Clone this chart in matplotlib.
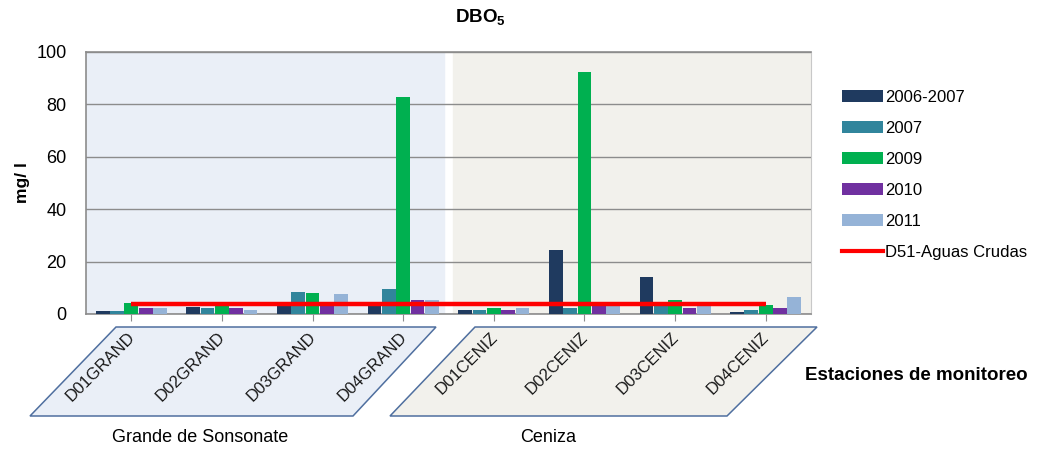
import matplotlib
matplotlib.use("Agg")
import matplotlib.pyplot as plt
import numpy as np
from matplotlib.patches import Polygon, Patch
from matplotlib.lines import Line2D

plt.rcParams['font.family'] = ['Liberation Sans', 'DejaVu Sans']
plt.rcParams['mathtext.fontset'] = 'custom'
plt.rcParams['mathtext.rm'] = 'Liberation Sans'
plt.rcParams['mathtext.bf'] = 'Liberation Sans:bold'

# estaciones y series
stations = ["D01GRAND", "D02GRAND", "D03GRAND", "D04GRAND",
            "D01CENIZ", "D02CENIZ", "D03CENIZ", "D04CENIZ"]
rivers = ["Grande de Sonsonate", "Ceniza"]
series = ["2006-2007", "2007", "2009", "2010", "2011"]
colors = ["#1F3A5F", "#31859C", "#00B050", "#7030A0", "#95B3D7"]

v_2006_2007 = [1.3, 2.8, 3.2, 3.2, 1.5, 24.4, 14.2, 0.9]
v_2007 = [1.3, 2.2, 8.3, 9.4, 1.5, 2.4, 3.1, 1.5]
v_2009 = [4.1, 3.0, 7.9, 82.8, 2.4, 92.4, 5.3, 3.4]
v_2010 = [2.4, 2.4, 3.2, 5.3, 1.5, 3.1, 2.4, 2.4]
v_2011 = [2.4, 1.5, 7.5, 5.2, 2.4, 3.1, 3.1, 6.4]
values = [v_2006_2007, v_2007, v_2009, v_2010, v_2011]

d51 = [4, 4, 4, 4, 4, 4, 4, 4]  # D51-Aguas Crudas

W, H = 1041, 450
fig = plt.figure(figsize=(W / 100, H / 100), dpi=100)
ax = fig.add_axes([86 / W, 1 - 314 / H, (811 - 86) / W, 262 / H])

x = np.arange(len(stations))
bw = 0.158
grey = "#8C8C8C"

ax.axvspan(-0.5, 3.45, color="#EAEFF7", zorder=0)
ax.axvspan(3.55, 7.5, color="#F2F1EC", zorder=0)

for k, (vals, c) in enumerate(zip(values, colors)):
    ax.bar(x + (k - 2) * bw, vals, width=bw * 0.96, color=c, zorder=3)

ax.plot(x, d51, color="#FF0000", lw=3.2, zorder=4, solid_capstyle="butt")

ax.set_xlim(-0.5, 7.5)
ax.set_ylim(0, 100)
ax.set_yticks([0, 20, 40, 60, 80, 100])
ax.tick_params(axis="y", length=0, labelsize=13, pad=14)
ax.yaxis.grid(True, color=grey, lw=1)
ax.set_axisbelow(False)
for gl in ax.get_ygridlines():
    gl.set_zorder(1)
ax.set_xticks(x)
ax.set_xticklabels([])
ax.tick_params(axis="x", length=5, color=grey, direction="out")
for s in ["left", "bottom", "top"]:
    ax.spines[s].set_color(grey)
    ax.spines[s].set_linewidth(1.2)
ax.spines["right"].set_color("#C8C8C8")

# etiquetas de estaciones
for i, name in enumerate(stations):
    ax.text(i + 0.07, -0.06, name, transform=ax.get_xaxis_transform(),
            rotation=45, ha="right", va="top", fontsize=12, color="#1A1A1A")

# paralelogramos por río
def fx(px):
    return px / W

def fy(py):
    return 1 - py / H

shapes = [
    ([(116, 327), (436, 327), (353, 416), (30, 416)], "#EAEFF7"),
    ([(475, 327), (817, 327), (727, 416), (390, 416)], "#F2F1EC"),
]
for pts, fc in shapes:
    poly = Polygon([(fx(a), fy(b)) for a, b in pts], closed=True,
                   transform=fig.transFigure, facecolor=fc,
                   edgecolor="#4F6F9F", lw=1.1, zorder=-1)
    fig.patches.append(poly)

fig.text(fx(200), fy(437), rivers[0], ha="center", va="center", fontsize=13)
fig.text(fx(548), fy(437), rivers[1], ha="center", va="center", fontsize=13)
fig.text(fx(805), fy(376), "Estaciones de monitoreo", ha="left", va="center",
         fontsize=13.5, fontweight="bold")
fig.text(fx(22), fy(183), "mg/ l", ha="center", va="center", rotation=90,
         fontsize=12.5, fontweight="bold")
fig.text(fx(480), fy(17), r"$\mathbf{DBO_5}$", ha="center", va="center",
         fontsize=13.5)

handles = [Patch(facecolor=c, edgecolor="none") for c in colors]
handles.append(Line2D([], [], color="#FF0000", lw=3))
labels = series + ["D51-Aguas Crudas"]
fig.legend(handles, labels, loc="upper left",
           bbox_to_anchor=(fx(842), fy(90)), frameon=False, fontsize=12,
           handlelength=2.45, handleheight=0.72, handletextpad=0.12,
           labelspacing=0.96, borderpad=0, borderaxespad=0)

fig.savefig("out.png", dpi=100)
